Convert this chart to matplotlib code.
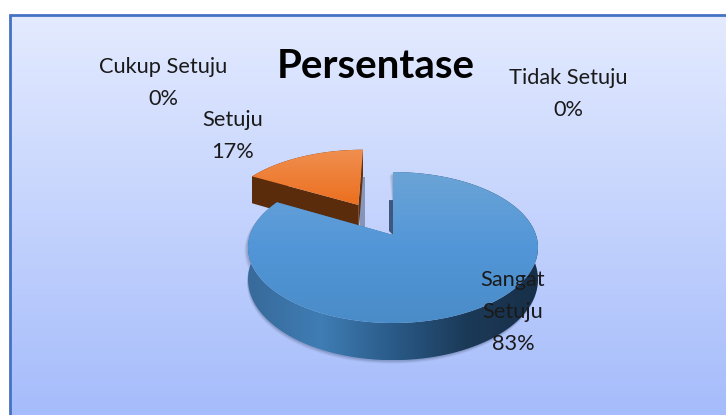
#!/usr/bin/python3
"""Pie chart of the Persentase answers, drawn with a 3D look."""
import numpy as np
import matplotlib
matplotlib.use("Agg")
import matplotlib.pyplot as plt
from matplotlib.colors import LinearSegmentedColormap
from matplotlib.patches import Polygon

plt.rcParams['font.family'] = ['Lato', 'DejaVu Sans']

TITLE = "Persentase"
categories = ["Sangat\nSetuju", "Setuju", "Cukup Setuju", "Tidak Setuju"]
percent_v = [83, 17, 0, 0]
explode_v = [0.0, 0.51, 0.0, 0.0]

# where the labels sit, in pixels
label_pos_v = [(513, 312), (233, 136), (163, 83), (568, 94)]

# perspective of the pie plane
APEX_X, APEX_Y = 393, 235
SCALE_X, SCALE_Y = 143, 73.4
TILT = 0.166
DEPTH = 31


def project(x, y):
    """Project a point of the pie plane on the picture."""
    w = 1 + TILT * y
    return APEX_X + SCALE_X * x / w, APEX_Y - SCALE_Y * y / w


def gradient(ax, patch, colors, horizontal=False):
    """Fill a patch with a linear gradient over its bounding box."""
    xy = patch.get_xy()
    cmap = LinearSegmentedColormap.from_list("g", colors)
    ramp = np.linspace(0, 1, 256)
    ramp = ramp.reshape(1, -1) if horizontal else ramp.reshape(-1, 1)
    extent = (xy[:, 0].min(), xy[:, 0].max(), xy[:, 1].max(), xy[:, 1].min())
    im = ax.imshow(ramp, cmap=cmap, extent=extent, aspect='auto',
                   zorder=patch.get_zorder(), interpolation='bilinear')
    patch.set(facecolor='none', edgecolor='none')
    ax.add_patch(patch)
    im.set_clip_path(patch)


def rim(start, stop, off_x, off_y):
    """Rim points of a wedge, angles in degrees clockwise from 12 o'clock."""
    theta = np.radians(np.linspace(start, stop, 200))
    return project(off_x + np.sin(theta), off_y + np.cos(theta))


def draw_wedge(ax, start, stop, explode, top_colors, side_colors, side_horizontal, z):
    """Draw the side and top faces of one wedge."""
    mid = np.radians((start + stop) / 2)
    off_x, off_y = explode * np.sin(mid), explode * np.cos(mid)
    apex_x, apex_y = project(off_x, off_y)
    rim_x, rim_y = rim(start, stop, off_x, off_y)
    theta = np.radians(np.linspace(start, stop, 200))
    w = 1 + TILT * (off_y + np.cos(theta))
    low_y = rim_y + DEPTH / w
    apex_low = apex_y + DEPTH / (1 + TILT * off_y)

    # soft shadow under the wedge
    if explode == 0:
        for grow, alpha in [(3.5, 0.06), (2.5, 0.08), (1.5, 0.12)]:
            shade = np.column_stack([
                np.r_[rim_x - grow, rim_x[::-1] - grow * 0.3],
                np.r_[rim_y + grow, low_y[::-1] + grow]])
            ax.add_patch(Polygon(shade, facecolor='#10203a', edgecolor='none',
                                 alpha=alpha, zorder=z))

    # inner cut faces and outer side
    inner = np.column_stack([
        [apex_x, rim_x[-1], rim_x[-1], apex_x],
        [apex_y, rim_y[-1], low_y[-1], apex_low]])
    gradient(ax, Polygon(inner, zorder=z + 0.1), side_colors)
    outer = np.column_stack([np.r_[rim_x, rim_x[::-1]], np.r_[rim_y, low_y[::-1]]])
    gradient(ax, Polygon(outer, zorder=z + 0.2), side_colors, side_horizontal)
    first = np.column_stack([
        [apex_x, rim_x[0], rim_x[0], apex_x],
        [apex_y, rim_y[0], low_y[0], apex_low]])
    ax.add_patch(Polygon(first, facecolor=side_colors[-1], edgecolor='none',
                         zorder=z + 0.3))

    # small shadow along the open gap
    if explode == 0:
        strip = np.column_stack([
            [rim_x[0] - 4, rim_x[0], rim_x[0], rim_x[0] - 4],
            [rim_y[0] + 28, rim_y[0] + 28, apex_y, apex_y - 4]])
        color, alpha = '#2f4a70', 0.9
    else:
        strip = np.column_stack([
            [rim_x[-1] - 3, rim_x[-1] + 2, rim_x[-1] + 2, rim_x[-1] - 3],
            [rim_y[-1] + 27, rim_y[-1] + 27, apex_low, apex_low]])
        color, alpha = '#3a4a66', 0.45
    ax.add_patch(Polygon(strip, facecolor=color, edgecolor='none',
                         alpha=alpha, zorder=z + 0.05))

    # top face
    top = np.column_stack([np.r_[apex_x, rim_x], np.r_[apex_y, rim_y]])
    gradient(ax, Polygon(top, zorder=z + 0.4), top_colors)


def main():
    """The script's entry point."""
    fig = plt.figure(figsize=(7.26, 4.15), dpi=100)
    ax = fig.add_axes([0, 0, 1, 1])

    # panel background and border
    bg = Polygon([(10, 15), (740, 15), (740, 430), (10, 430)], zorder=1)
    gradient(ax, bg, ['#e4ebff', '#a3bafb'])
    ax.plot([10, 10, 740], [430, 15, 15], color='#4472c4', lw=2, zorder=2,
            solid_joinstyle='miter')

    # wedges run clockwise from 12 o'clock, the big one on top
    angle_v = np.cumsum([0] + percent_v) * 3.6
    draw_wedge(ax, angle_v[1], angle_v[2], explode_v[1],
               ['#f08f50', '#ec6f1e'], ['#6a350e', '#5a2c0b'], False, 3)
    draw_wedge(ax, angle_v[0], angle_v[1], explode_v[0],
               ['#6ba4d6', '#5296d8', '#4a8cc8'],
               ['#386a9a', '#3f7db4', '#2a5a88', '#1b3a58', '#182f48'], True, 4)

    ax.set_xlim(0, 726)
    ax.set_ylim(415, 0)
    ax.axis('off')

    ax.text(375.5, 66, TITLE, ha='center', va='center', fontsize=29,
            fontweight='bold', color='black', zorder=6)
    for category, percent, (x, y) in zip(categories, percent_v, label_pos_v):
        ax.text(x, y, f"{category}\n{percent}%", ha='center', va='center',
                fontsize=15.7, color='#1a1a1a', linespacing=1.72, zorder=6)

    fig.savefig("out.png", dpi=100)


if __name__ == "__main__":
    main()
